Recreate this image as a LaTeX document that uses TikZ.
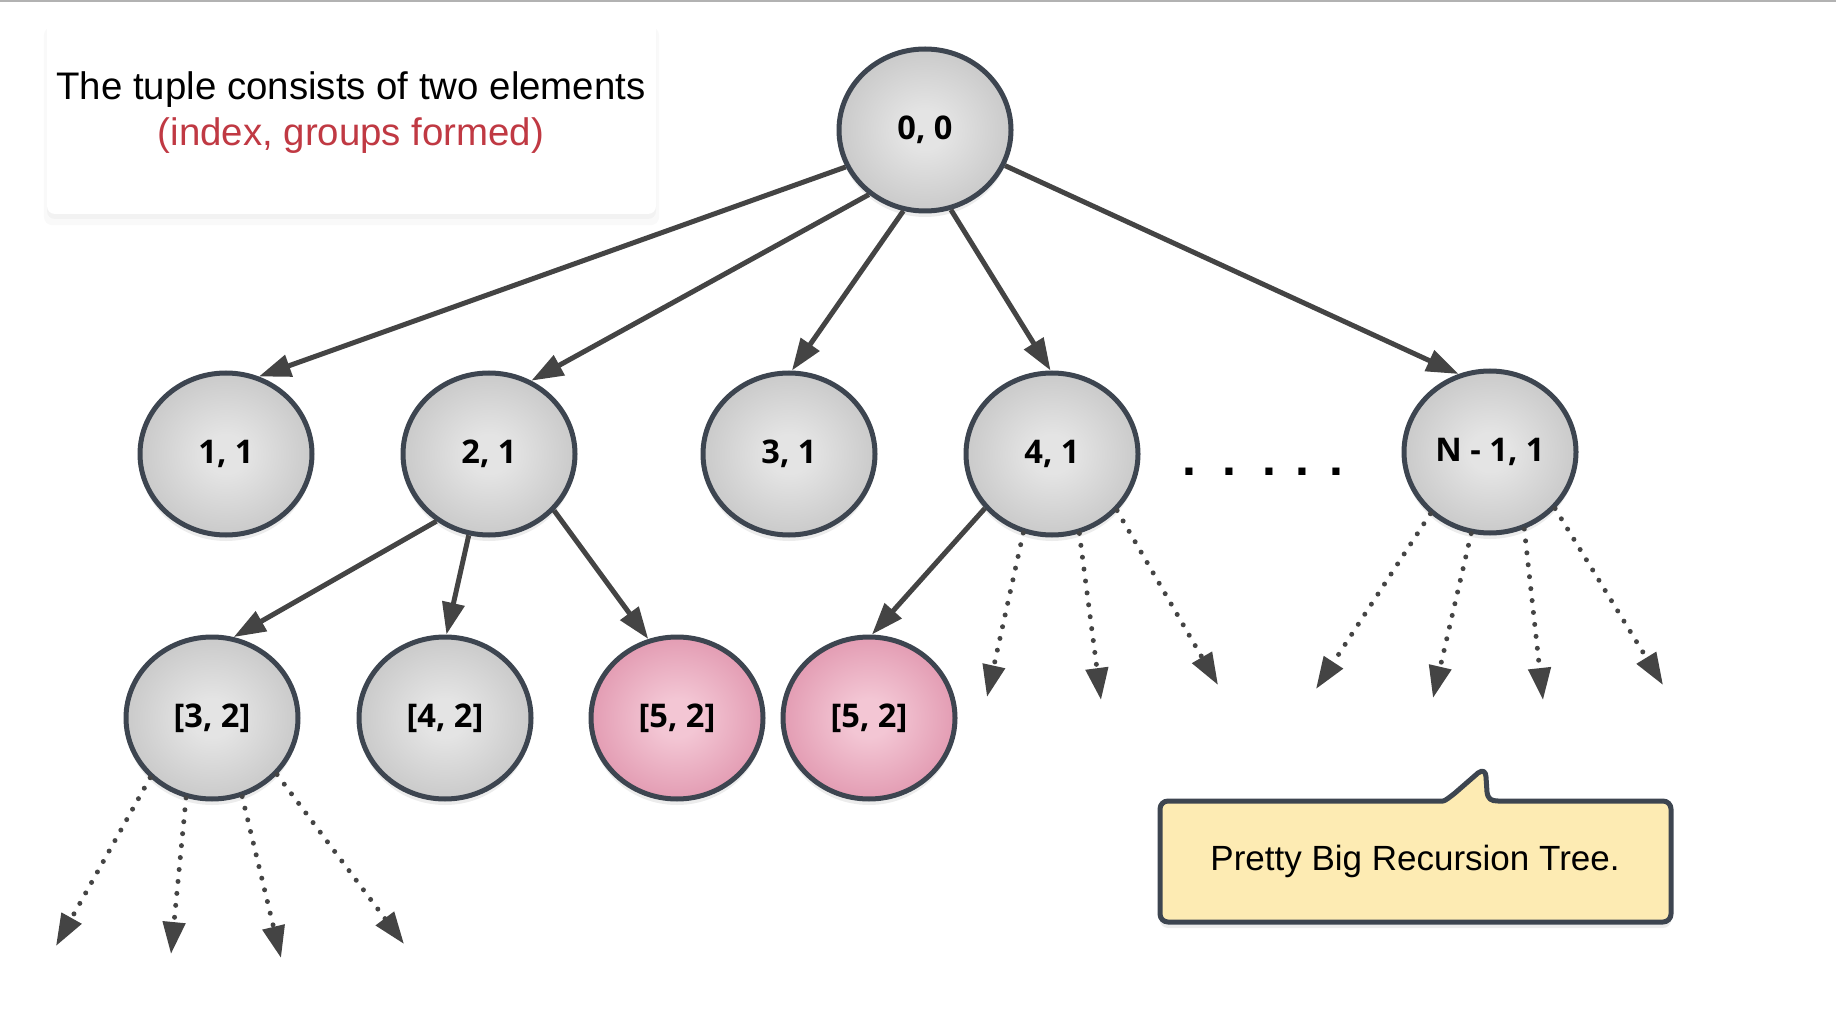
\documentclass[tikz,border=0pt]{standalone}
\usepackage{fontspec}
\setmainfont{Liberation Sans}
\newfontfamily\keyfont{Open Sans}
\usetikzlibrary{arrows.meta, positioning, shapes.geometric, shadows}

\definecolor{rim}{RGB}{61,69,80}
\definecolor{wire}{RGB}{68,68,68}
\definecolor{noteink}{RGB}{192,57,67}
\definecolor{notefill}{RGB}{253,235,179}
\definecolor{graymid}{RGB}{228,228,228}
\definecolor{grayedge}{RGB}{168,168,168}
\definecolor{pinkmid}{RGB}{243,198,212}
\definecolor{pinkedge}{RGB}{206,102,136}
\pgfdeclareradialshading{grayball}{\pgfpointorigin}{color(0bp)=(graymid); color(6bp)=(graymid); color(50bp)=(grayedge)}
\pgfdeclareradialshading{pinkball}{\pgfpointorigin}{color(0bp)=(pinkmid); color(6bp)=(pinkmid); color(50bp)=(pinkedge)}

\begin{document}
\begin{tikzpicture}[x=0.5pt, y=-0.5pt,
    tuplenode/.style={ellipse, draw=rim, line width=2.5pt, minimum width=86pt, minimum height=81pt, inner sep=0pt,
        shading=grayball, font=\keyfont\bfseries\fontsize{16.3}{19}\selectfont,
        drop shadow={opacity=0.15, shadow xshift=0pt, shadow yshift=-3pt}},
    repeatnode/.style={tuplenode, shading=pinkball},
    call/.style={draw=wire, line width=2.5pt, -{Triangle[length=16pt, width=11pt]}},
    more/.style={call, line cap=round, dash pattern=on 0pt off 6pt}]
        \useasboundingbox (0,0) rectangle (1836,1010);
        \draw[gray!60, line width=1pt] (0,1) -- (1836,1);

        % legend
        \node[fill=white, rounded corners=4pt, minimum width=304.5pt, minimum height=98pt, inner sep=0pt,
            drop shadow={opacity=0.05, shadow xshift=0pt, shadow yshift=-5pt, shadow scale=1.01},
            drop shadow={opacity=0.06, shadow xshift=0pt, shadow yshift=-2.5pt}] (legend) at (351.5,116) {};
        \node[align=center, font=\fontsize{19.2}{23}\selectfont] (legendtext) at (351,113)
            {The tuple consists of two elements\\ \textcolor{noteink}{(index, groups formed)}};

        % tree
        \node[tuplenode] (root) at (925,130) {0, 0};
        \node[tuplenode] (n11) at (226,454) {1, 1};
        \node[tuplenode] (n21) at (489,454) {2, 1};
        \node[tuplenode] (n31) at (789,454) {3, 1};
        \node[tuplenode] (n41) at (1052,454) {4, 1};
        \node[tuplenode] (nN1) at (1490,452) {N - 1, 1};
        \node[tuplenode] (n32) at (212,718) {[3, 2]};
        \node[tuplenode] (n42) at (445,718) {[4, 2]};
        \node[repeatnode] (n52a) at (677,718) {[5, 2]};
        \node[repeatnode] (n52b) at (869,718) {[5, 2]};
        \node[font=\bfseries\fontsize{25}{25}\selectfont] (dots) at (1263,472)
            {.\hspace{13pt}.\hspace{13pt}.\hspace{10pt}.\hspace{10pt}.};

        \draw[call] (root.205) -- (n11.67);
        \draw[call] (root.229) -- (n21.60);
        \draw[call] (root.255) -- (n31.88);
        \draw[call] (root.288) -- (n41.91);
        \draw[call] (root.336) -- (nN1.112);
        \draw[call] (n21.232) -- (n32.75);
        \draw[call] (n21.256) -- (n42.89);
        \draw[call] (n21.319) -- (n52a.110);
        \draw[call] (n41.219) -- (n52b.88);

        % unexpanded calls
        \foreach \a/\x/\y [count=\i] in {250/987/697, 289/1101/700, 319/1218/685} {
            \coordinate (f41\i) at (\x,\y);
            \draw[more] (n41.\a) -- (f41\i);
        }
        \foreach \a/\x/\y [count=\i] in {226/1316/689, 257/1433/698, 294/1543/700, 319/1663/685} {
            \coordinate (fN1\i) at (\x,\y);
            \draw[more] (nN1.\a) -- (fN1\i);
        }
        \foreach \a/\x/\y [count=\i] in {224/56/946, 252/171/954, 291/281/958, 319/404/944} {
            \coordinate (f32\i) at (\x,\y);
            \draw[more] (n32.\a) -- (f32\i);
        }

        % callout
        \draw[draw=rim, fill=notefill, line width=2.5pt, line join=round,
            drop shadow={opacity=0.15, shadow xshift=0pt, shadow yshift=-3pt}]
            (1435,801) .. controls (1445,801) and (1450,797) .. (1455,793) -- (1478,773)
            .. controls (1483,769) and (1486,772) .. (1486,777) -- (1487,792)
            .. controls (1488,799) and (1491,801) .. (1498,801)
            [rounded corners=4pt] -- (1671,801) -- (1671,922) -- (1160,922) -- (1160,801) -- cycle;
        \node[font=\fontsize{17.5}{21}\selectfont] (calltext) at (1415,861) {Pretty Big Recursion Tree.};
    \end{tikzpicture}
\end{document}
